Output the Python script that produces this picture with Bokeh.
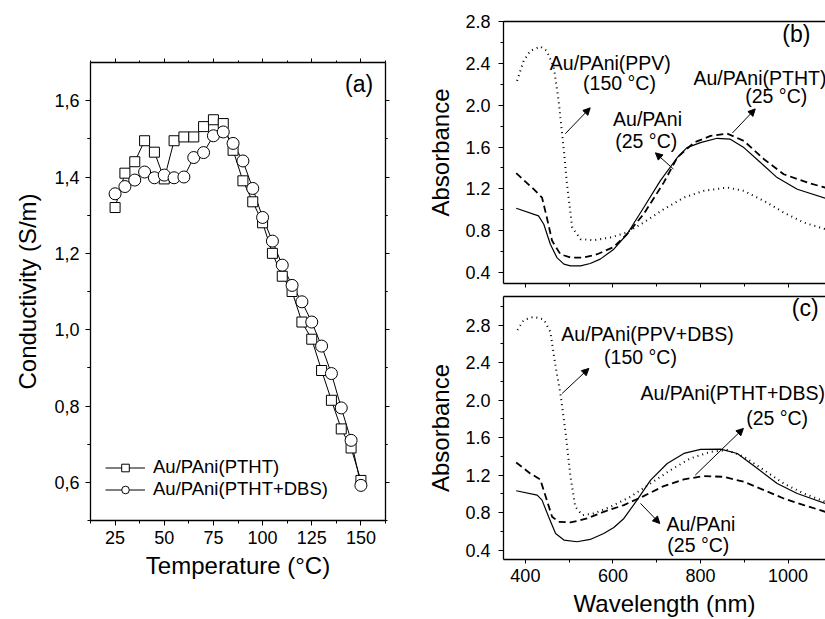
from bokeh.plotting import figure
from bokeh.layouts import row, column
from bokeh.models import (LinearAxis, FixedTicker, SingleIntervalTicker, Legend, LegendItem,
                          Label, Arrow, NormalHead, Range1d, PrintfTickFormatter,
                          CustomLabelingPolicy)
from bokeh.embed import file_html
from bokeh.resources import INLINE

FONT = "Liberation Sans"

# ---------------- data: panel (a) ----------------
temperature = [25, 30, 35, 40, 45, 50, 55, 60, 65, 70, 75, 80, 85, 90, 95, 100,
               105, 110, 115, 120, 125, 130, 135, 140, 145, 150]
cond_ptht = [1.32, 1.41, 1.44, 1.495, 1.465, 1.395, 1.495, 1.505, 1.505, 1.532, 1.55, 1.54,
             1.47, 1.39, 1.335, 1.28, 1.20, 1.14, 1.10, 1.02, 0.975, 0.893, 0.815, 0.74, 0.69, 0.605]
cond_ptht_dbs = [1.356, 1.375, 1.392, 1.413, 1.398, 1.405, 1.398, 1.40, 1.451, 1.464, 1.508, 1.518,
                 1.488, 1.442, 1.370, 1.294, 1.232, 1.169, 1.116, 1.073, 1.02, 0.957, 0.885, 0.795, 0.71, 0.592]
a_yticks = [0.6, 0.8, 1.0, 1.2, 1.4, 1.6]
a_yticklabels = ["0,6", "0,8", "1,0", "1,2", "1,4", "1,6"]
a_xticks = [25, 50, 75, 100, 125, 150]

# ---------------- data: panel (b) ----------------
b_solid_wl = [379, 430, 442, 457, 472, 488, 503, 526, 548, 571, 602, 632, 670, 708, 747, 769,
              800, 838, 868, 899, 937, 975, 1021, 1085]
b_solid_ab = [1.015, 0.942, 0.862, 0.671, 0.543, 0.48, 0.464, 0.464, 0.486, 0.528, 0.623, 0.766,
              1.02, 1.277, 1.50, 1.595, 1.643, 1.684, 1.675, 1.595, 1.452, 1.308, 1.197, 1.111]
b_dash_wl = [379, 419, 438, 449, 461, 480, 503, 533, 564, 602, 632, 670, 716, 747, 785, 823,
             861, 899, 945, 990, 1051, 1085]
b_dash_ab = [1.35, 1.197, 1.117, 0.926, 0.703, 0.575, 0.543, 0.543, 0.575, 0.645, 0.766, 0.958,
             1.26, 1.50, 1.643, 1.707, 1.729, 1.659, 1.484, 1.34, 1.251, 1.213]
b_dot_wl = [381, 396, 411, 434, 449, 465, 476, 488, 495, 507, 526, 556, 594, 632, 670, 716,
            762, 807, 861, 899, 945, 990, 1036, 1085]
b_dot_ab = [2.233, 2.424, 2.52, 2.561, 2.52, 2.36, 2.041, 1.563, 1.245, 0.83, 0.719, 0.709,
            0.735, 0.783, 0.878, 1.006, 1.117, 1.181, 1.213, 1.181, 1.085, 0.974, 0.878, 0.814]

# ---------------- data: panel (c) ----------------
c_solid_wl = [379, 427, 438, 453, 469, 488, 518, 548, 579, 602, 625, 655, 686, 724, 762, 800,
              846, 884, 930, 975, 1021, 1085]
c_solid_ab = [1.033, 0.987, 0.933, 0.756, 0.578, 0.507, 0.489, 0.514, 0.578, 0.642, 0.738, 0.933,
              1.147, 1.324, 1.431, 1.474, 1.477, 1.431, 1.271, 1.111, 1.004, 0.898]
c_dash_wl = [379, 411, 434, 449, 461, 476, 503, 541, 579, 625, 670, 716, 762, 807, 853, 899,
             945, 990, 1036, 1085]
c_dash_ab = [1.335, 1.218, 1.154, 0.933, 0.756, 0.702, 0.695, 0.738, 0.809, 0.88, 0.976, 1.083,
             1.154, 1.19, 1.182, 1.129, 1.04, 0.951, 0.88, 0.809]
c_dot_wl = [382, 396, 419, 442, 457, 469, 480, 492, 503, 514, 530, 556, 594, 640, 686, 731,
            777, 823, 861, 899, 945, 990, 1036, 1085]
c_dot_ab = [2.747, 2.853, 2.889, 2.86, 2.729, 2.356, 2.071, 1.644, 1.182, 0.862, 0.773, 0.791,
            0.862, 0.969, 1.111, 1.253, 1.378, 1.449, 1.467, 1.396, 1.253, 1.111, 1.004, 0.916]

# annotations: (text, x, y, align)
b_texts = [("Au/PAni(PPV)", 594, 2.408, "center"), ("(150 °C)", 615, 2.217, "center"),
           ("Au/PAni(PTHT)", 784, 2.265, "left"), ("(25 °C)", 973, 2.09, "center"),
           ("Au/PAni", 679, 1.867, "center"), ("(25 °C)", 676, 1.659, "center")]
b_arrows = [(491, 1.727, 548, 1.975), (873, 1.735, 925, 1.965), (738, 1.39, 697, 1.545)]
c_texts = [("Au/PAni(PPV+DBS)", 679, 2.704, "center"), ("(150 °C)", 663, 2.455, "center"),
           ("Au/PAni(PTHT+DBS)", 663, 2.071, "left"), ("(25 °C)", 975, 1.805, "center"),
           ("Au/PAni", 801, 0.677, "center"), ("(25 °C)", 795, 0.453, "center")]
c_arrows = [(484, 2.071, 545, 2.338), (788, 1.2, 898, 1.698), (663, 0.898, 707, 0.684)]


def style_axis(ax, label_size="18px"):
    ax.axis_line_color = "black"
    ax.axis_line_width = 1.3
    ax.major_tick_line_color = "black"
    ax.minor_tick_line_color = "black"
    ax.major_tick_in = 0
    ax.major_tick_out = 5
    ax.minor_tick_in = 0
    ax.minor_tick_out = 3
    ax.major_label_text_font = FONT
    ax.major_label_text_font_size = label_size
    ax.major_label_text_color = "black"
    ax.axis_label_text_font = FONT
    ax.axis_label_text_font_size = "24px"
    ax.axis_label_text_font_style = "normal"
    ax.axis_label_text_color = "black"


def hide_labels(ax):
    ax.major_label_policy = CustomLabelingPolicy(code="return []")
    ax.major_label_text_font_size = "1px"
    ax.major_label_standoff = 0


def base_fig(**kw):
    p = figure(output_backend="svg", toolbar_location=None, **kw)
    p.grid.visible = False
    p.background_fill_color = "white"
    p.border_fill_color = "white"
    return p


# ================= panel (a) =================
pa = base_fig(frame_width=295, frame_height=458, x_range=Range1d(12.5, 162.5),
              y_range=Range1d(0.5, 1.7), min_border_left=90, min_border_top=62,
              min_border_right=20, min_border_bottom=75)
pa.outline_line_color = None
a_xminor = [t + 12.5 for t in [0] + a_xticks]
a_yminor = [t + d for t in a_yticks for d in (-0.1, 0.1)]
pa.xaxis.ticker = FixedTicker(ticks=a_xticks, minor_ticks=a_xminor)
pa.yaxis.ticker = FixedTicker(ticks=a_yticks, minor_ticks=a_yminor)
pa.yaxis.major_label_overrides = dict(zip(a_yticks, a_yticklabels))
pa.xaxis.axis_label = "Temperature (°C)"
pa.yaxis.axis_label = "Conductivity (S/m)"
for ax in pa.xaxis + pa.yaxis:
    style_axis(ax)
pa.xaxis.major_label_standoff = 5
pa.xaxis.axis_label_standoff = 5
pa.yaxis.major_label_standoff = 6
pa.yaxis.axis_label_standoff = 10
ax_top = LinearAxis(ticker=FixedTicker(ticks=a_xticks, minor_ticks=a_xminor))
ax_right = LinearAxis(ticker=FixedTicker(ticks=a_yticks, minor_ticks=a_yminor))
for ax in (ax_top, ax_right):
    style_axis(ax)
    hide_labels(ax)
    ax.major_tick_out = 4
    ax.minor_tick_out = 2
pa.add_layout(ax_top, "above")
pa.add_layout(ax_right, "right")

l1 = pa.line(temperature, cond_ptht, line_color="black", line_width=1)
l2 = pa.line(temperature, cond_ptht_dbs, line_color="black", line_width=1)
s1 = pa.scatter(temperature, cond_ptht, marker="square", size=10, line_color="black",
                line_width=1, fill_color="white")
s2 = pa.scatter(temperature, cond_ptht_dbs, marker="circle", size=12, line_color="black",
                line_width=1, fill_color="white")
leg = Legend(items=[LegendItem(label="Au/PAni(PTHT)", renderers=[l1, s1]),
                    LegendItem(label="Au/PAni(PTHT+DBS)", renderers=[l2, s2])],
             location=(15, 20), padding=0, margin=0, spacing=0, glyph_width=40,
             glyph_height=19, label_height=19, label_standoff=8,
             background_fill_alpha=0, border_line_color=None,
             label_text_font=FONT, label_text_font_size="18.5px", label_text_color="black")
pa.add_layout(leg)
pa.add_layout(Label(x=149.1, y=1.643, text="(a)", text_font=FONT, text_font_size="23px",
                    text_align="center", text_baseline="middle", text_color="black"))


# ================= panels (b) and (c) =================
def spectrum_fig(ymin, ymax, frame_h, top, bottom, show_x):
    p = base_fig(frame_width=322, frame_height=frame_h, x_range=Range1d(350, 1085.5),
                 y_range=Range1d(ymin, ymax), min_border_left=98, min_border_top=top,
                 min_border_right=0, min_border_bottom=bottom)
    p.outline_line_color = None
    p.xaxis.ticker = SingleIntervalTicker(interval=200, num_minor_ticks=2)
    p.yaxis.ticker = SingleIntervalTicker(interval=0.4, num_minor_ticks=2)
    p.yaxis.formatter = PrintfTickFormatter(format="%.1f")
    p.yaxis.axis_label = "Absorbance"
    for ax in p.xaxis + p.yaxis:
        style_axis(ax)
    p.yaxis.major_label_standoff = 8
    p.yaxis.axis_label_standoff = 8
    p.xaxis.major_tick_out = 4
    if show_x:
        p.xaxis.axis_label = "Wavelength (nm)"
        p.xaxis.major_label_standoff = 5
        p.xaxis.axis_label_standoff = 5
    else:
        hide_labels(p.xaxis[0])
    top_ax = LinearAxis(ticker=FixedTicker(ticks=[]))
    style_axis(top_ax)
    hide_labels(top_ax)
    top_ax.major_tick_out = 0
    top_ax.minor_tick_out = 0
    p.add_layout(top_ax, "above")
    return p


def draw_spectra(p, solid, dash, dot, texts, arrows, tag, tag_xy):
    p.line(*solid, line_color="black", line_width=1.2)
    p.line(*dash, line_color="black", line_width=1.8, line_dash="7 4")
    p.line(*dot, line_color="black", line_width=2, line_dash="1 4")
    for t, x, y, al in texts:
        p.add_layout(Label(x=x, y=y, text=t, text_font=FONT, text_font_size="19.5px",
                           text_align=al, text_baseline="middle", text_color="black"))
    for x0, y0, x1, y1 in arrows:
        p.add_layout(Arrow(x_start=x0, y_start=y0, x_end=x1, y_end=y1, line_width=1,
                           line_color="black",
                           end=NormalHead(size=7, line_color="black", fill_color="black", line_width=1)))
    p.add_layout(Label(x=tag_xy[0], y=tag_xy[1], text=tag, text_font=FONT, text_font_size="23px",
                       text_align="center", text_baseline="middle", text_color="black"))


pb = spectrum_fig(0.295, 2.801, 262, 21, 5, False)
draw_spectra(pb, (b_solid_wl, b_solid_ab), (b_dash_wl, b_dash_ab), (b_dot_wl, b_dot_ab),
             b_texts, b_arrows, "(b)", (1019, 2.682))

pc = spectrum_fig(0.3, 3.105, 263, 5, 62, True)
draw_spectra(pc, (c_solid_wl, c_solid_ab), (c_dash_wl, c_dash_ab), (c_dot_wl, c_dot_ab),
             c_texts, c_arrows, "(c)", (1039, 2.978))

layout = row(pa, column(pb, pc, spacing=0), spacing=0)
open("out.html", "w").write(file_html(layout, INLINE))
